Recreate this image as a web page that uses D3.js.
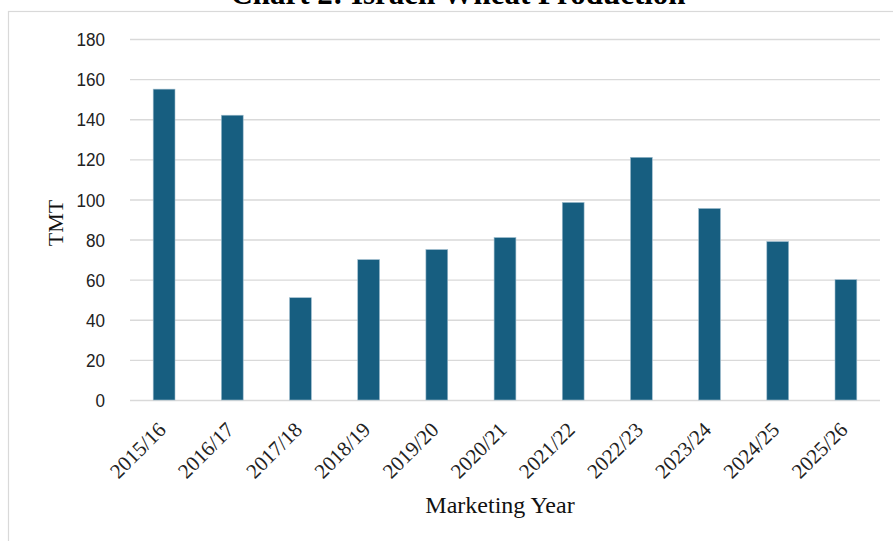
<!DOCTYPE html>
<html>
<head>
<meta charset="utf-8">
<script src="https://cdn.jsdelivr.net/npm/d3@7"></script>
<style>
  html, body { margin: 0; padding: 0; background: #fff; }
  svg { display: block; }
</style>
</head>
<body>
<svg id="chart" width="893" height="541"></svg>
<script>
// Israeli wheat production by marketing year (thousand metric tons)
const years = ["2015/16", "2016/17", "2017/18", "2018/19", "2019/20", "2020/21",
               "2021/22", "2022/23", "2023/24", "2024/25", "2025/26"];
const production = [155, 142, 51, 70, 75, 81, 98.5, 121, 95.5, 79, 60];
const yTicks = [0, 20, 40, 60, 80, 100, 120, 140, 160, 180];

const svg = d3.select("#chart");
const W = 893, H = 541;
const margin = { left: 130, right: 13, top: 39, bottom: 141 };
const serif = "'Liberation Serif', 'Times New Roman', serif";

const x = d3.scaleBand()
  .domain(years)
  .range([margin.left, W - margin.right])
  .paddingInner(0.68)
  .paddingOuter(0.34);

const y = d3.scaleLinear()
  .domain([0, 180])
  .range([H - margin.bottom, margin.top]);

// Outer frame
svg.append("rect")
  .attr("x", 8.5).attr("y", 11.5)
  .attr("width", 900).attr("height", 560)
  .attr("fill", "none").attr("stroke", "#d9d9d9").attr("stroke-width", 1.2);

// Title
svg.append("text")
  .attr("x", 458).attr("y", 4)
  .attr("text-anchor", "middle")
  .attr("font-family", serif)
  .attr("font-weight", "bold").attr("font-size", 31)
  .text("Chart 2: Israeli Wheat Production");

// Horizontal gridlines with tick labels
const yAxis = d3.axisLeft(y)
  .tickValues(yTicks)
  .tickSize(-(W - margin.right - margin.left))
  .tickPadding(25);

const gy = svg.append("g")
  .attr("transform", `translate(${margin.left},0)`)
  .call(yAxis);
gy.select(".domain").remove();
gy.selectAll(".tick line").attr("stroke", "#d9d9d9").attr("stroke-width", 1.4);
gy.selectAll(".tick text")
  .attr("fill", "#222")
  .attr("x", 0)
  .attr("transform", "translate(-25,0) scale(0.9,1)")
  .attr("font-family", "'Liberation Sans Narrow', 'Arial Narrow', 'Liberation Sans', sans-serif")
  .attr("font-size", 19)
  .attr("dy", "0.35em");

// Bars
svg.append("g").selectAll("rect")
  .data(years.map((yr, i) => ({ yr, v: production[i] })))
  .join("rect")
  .attr("x", d => x(d.yr))
  .attr("y", d => y(d.v))
  .attr("width", x.bandwidth())
  .attr("height", d => y(0) - y(d.v))
  .attr("fill", "#175e80")
  .attr("stroke", "#9dbccd")
  .attr("stroke-width", 0.6);

// Category axis
const xAxis = d3.axisBottom(x).tickSize(0).tickPadding(0);
const gx = svg.append("g")
  .attr("transform", `translate(0,${y(0)})`)
  .call(xAxis);
gx.select(".domain").remove();
gx.selectAll(".tick text")
  .attr("fill", "#222")
  .attr("font-family", serif)
  .attr("font-size", 21)
  .attr("text-anchor", "end")
  .attr("y", 0)
  .attr("dy", "0")
  .attr("transform", "translate(3,31) rotate(-45)");

// Axis titles
svg.append("text")
  .attr("x", 500).attr("y", 513)
  .attr("text-anchor", "middle")
  .attr("font-family", serif)
  .attr("font-size", 24)
  .attr("fill", "#111")
  .text("Marketing Year");

svg.append("text")
  .attr("transform", "translate(63,223) rotate(-90)")
  .attr("text-anchor", "middle")
  .attr("font-family", serif)
  .attr("font-size", 22)
  .attr("fill", "#111")
  .text("TMT");
</script>
</body>
</html>
